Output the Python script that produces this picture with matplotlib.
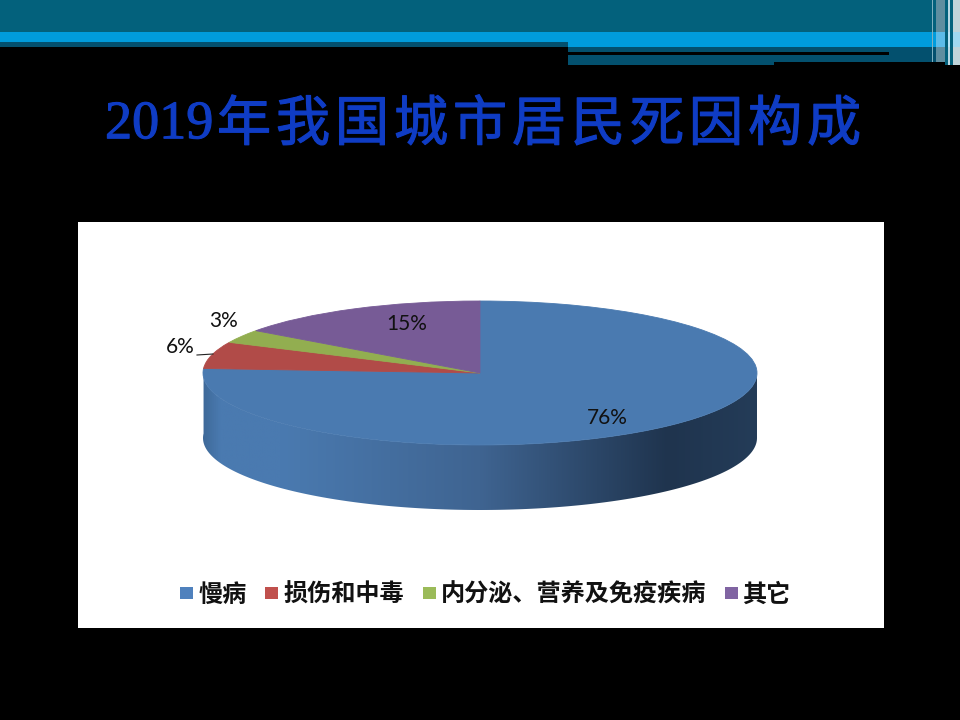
import numpy as np
import matplotlib
matplotlib.use("Agg")
import matplotlib.pyplot as plt
import matplotlib.patheffects as pe
from matplotlib.colors import LinearSegmentedColormap
from matplotlib.patches import Polygon, Rectangle

plt.rcParams['font.family'] = ['Noto Sans CJK SC', 'DejaVu Sans']

# chart data
categories = ['慢病', '损伤和中毒', '内分泌、营养及免疫疾病', '其它']
values = [76, 6, 3, 15]
value_labels = ['76%', '6%', '3%', '15%']
colors = ['#4a7ab0', '#b14b48', '#92ae50', '#775b96']
legend_colors = ['#4f81bd', '#c0504d', '#9bbb59', '#8064a2']
title_year = '2019'
title_rest = '年我国城市居民死因构成'

W, H = 960, 720
fig = plt.figure(figsize=(W / 100, H / 100), dpi=100, facecolor='black')

# full figure axes in pixels for the slide background
bg = fig.add_axes([0, 0, 1, 1])
bg.set_xlim(0, W)
bg.set_ylim(H, 0)
bg.axis('off')


def band(x0, x1, y0, y1, color, z=1):
    bg.add_patch(Rectangle((x0, y0), x1 - x0, y1 - y0, fc=color, ec='none', zorder=z))


# header bands
band(0, 960, 0, 32, '#03617c')
band(0, 960, 32, 42, '#009cdc')
band(568, 960, 42, 47, '#009cdc')
band(0, 568, 42, 47, '#03506e')
band(568, 942, 47, 62, '#03506e')
band(568, 889, 52, 55, '#000000', 2)
band(568, 774, 62, 65, '#03506e')
# stripes on the right end
band(932, 933, 0, 62, '#7fb0c0', 3)
band(936, 945, 0, 62, '#5f8ea0', 3)
band(945, 948, 0, 65, '#03617c', 3)
band(948, 950, 0, 65, '#b8d8e4', 3)
band(950, 953, 0, 65, '#03617c', 3)
band(953, 960, 0, 65, '#c0d4da', 3)
band(936, 945, 32, 47, '#5cbbe8', 4)
band(948, 950, 32, 47, '#b8e4f6', 4)
band(953, 960, 32, 47, '#a0d8f0', 4)

# title, the characters are spaced out so each one gets its own text
title_color = '#0f3cc4'
thick = [pe.withStroke(linewidth=0.8, foreground=title_color)]
bg.text(105, 125, title_year, color=title_color, fontsize=39, ha='left', va='center',
        family=['Liberation Serif'], path_effects=thick)
for i, ch in enumerate(title_rest):
    bg.text(244 + i * 59, 125, ch, color=title_color, fontsize=39, ha='center', va='center',
            path_effects=thick)

# white chart panel
band(78, 884, 222, 628, 'white')

# pie axes: top ellipse 301-445, side goes down to 510
ax = fig.add_axes([203 / W, 1 - 510 / H, 554 / W, 209 / H])
ax.patch.set_alpha(0)
depth = 65 / 72
wedges, _ = ax.pie(values, colors=colors, startangle=90, counterclock=False, radius=1,
                   frame=False)
for w, c in zip(wedges, colors):
    w.set_edgecolor(c)
    w.set_linewidth(0.6)
ax.set_aspect('auto')

# side wall, starts where the first slice ends
end = np.pi / 2 - 2 * np.pi * values[0] / sum(values)
t = np.linspace(0, end, 200)
xs, ys = np.cos(t), np.sin(t)
wall = np.r_[np.c_[xs, ys], np.c_[xs[::-1], ys[::-1] - depth]]
side = Polygon(wall, closed=True, fc='none', ec='none', transform=ax.transData)
ax.add_patch(side)
cmap = LinearSegmentedColormap.from_list('wall', [(0, '#3f6a9a'), (0.03, '#4a7ab0'),
                                                  (0.14, '#4a7ab0'), (0.5, '#3f6491'),
                                                  (0.84, '#1f344e'), (1, '#243c58')])
img = ax.imshow(np.linspace(0, 1, 256).reshape(1, -1), cmap=cmap, aspect='auto',
                extent=(-1, 1, -1 - depth, 1), zorder=0.5)
img.set_clip_path(side)
ax.set_xlim(-1, 1)
ax.set_ylim(-1 - depth, 1)
ax.axis('off')

# overlay for value labels and legend, pixel coords
top = fig.add_axes([0, 0, 1, 1])
top.set_xlim(0, W)
top.set_ylim(H, 0)
top.axis('off')
label_pos = [(607, 418), (180, 347), (224, 321), (407, 324)]
for lab, (x, y) in zip(value_labels, label_pos):
    top.text(x, y, lab, fontsize=15, family=['Lato'], ha='center', va='center', color='#111111')
top.plot([197, 213], [355, 354], color='#222222', lw=0.8)

# legend
leg_sq = [180, 265, 423, 725]
leg_tx = [199, 283, 441, 742]
for c, name, sx, tx in zip(legend_colors, categories, leg_sq, leg_tx):
    top.add_patch(Rectangle((sx, 587), 13, 12, fc=c, ec='none'))
    top.text(tx, 594.5, name, fontsize=17.4, fontweight='bold', ha='left', va='center', color='#111111')

fig.savefig('out.png', dpi=100, facecolor='black')
